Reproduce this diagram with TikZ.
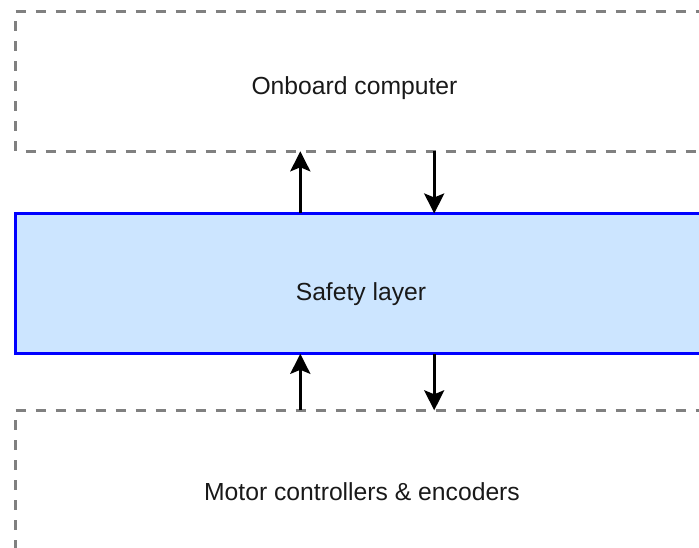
\documentclass[tikz,border=0pt]{standalone}
\usepackage{fontspec}
\setmainfont{Liberation Sans}
\usetikzlibrary{arrows.meta}
\definecolor{dgray}{HTML}{808080}
\definecolor{sblue}{HTML}{0000FF}
\definecolor{sfill}{HTML}{CCE5FF}
\tikzset{
  areabox/.style={draw=none, inner sep=0pt, outer sep=0pt, anchor=north west, minimum width=720pt, minimum height=140pt},
  safebox/.style={draw=sblue, fill=sfill, line width=3pt, inner sep=0pt, outer sep=0pt, anchor=north west, minimum width=720pt, minimum height=140.3pt},
  gdash/.style={draw=dgray, line width=2.7pt, dash pattern=on 10pt off 10pt},
  lbl/.style={font=\fontsize{24.7}{29}\selectfont, text=black!90, inner sep=0pt, anchor=base},
  arr/.style={line width=3pt, -{Stealth[length=20pt, width=20pt, inset=4pt]}}
}
\begin{document}
\begin{tikzpicture}[x=1pt, y=-1pt]
\useasboundingbox (0,0) rectangle (699,548);
% top area
\node[areabox] (obc) at (15.5,11.3) {};
\draw[gdash] (obc.north west) -- (obc.north east);
\draw[gdash, dash phase=10pt] (obc.south west) -- (obc.south east);
\draw[gdash, dash phase=10pt] (obc.north west) -- (obc.south west);
% middle
\node[safebox] (safe) at (15.5,213.5) {};
% bottom area
\node[areabox] (mot) at (15.5,410.3) {};
\draw[gdash] (mot.north west) -- (mot.north east);
\draw[gdash, dash phase=10pt] (mot.north west) -- (mot.south west);
% labels
\node[lbl] (t1) at (354.5,95) {Onboard computer};
\node[lbl] (t2) at (361,300) {Safety layer};
\node[lbl] (t3) at (362,500) {Motor controllers \& encoders};
% arrows
\draw[arr] ([xshift=284.8pt]safe.north west) -- ([xshift=284.8pt]obc.south west);
\draw[arr] ([xshift=418.7pt]obc.south west) -- ([xshift=418.7pt]safe.north west);
\draw[arr] ([xshift=284.8pt]mot.north west) -- ([xshift=284.8pt]safe.south west);
\draw[arr] ([xshift=418.7pt]safe.south west) -- ([xshift=418.7pt]mot.north west);
\end{tikzpicture}
\end{document}
